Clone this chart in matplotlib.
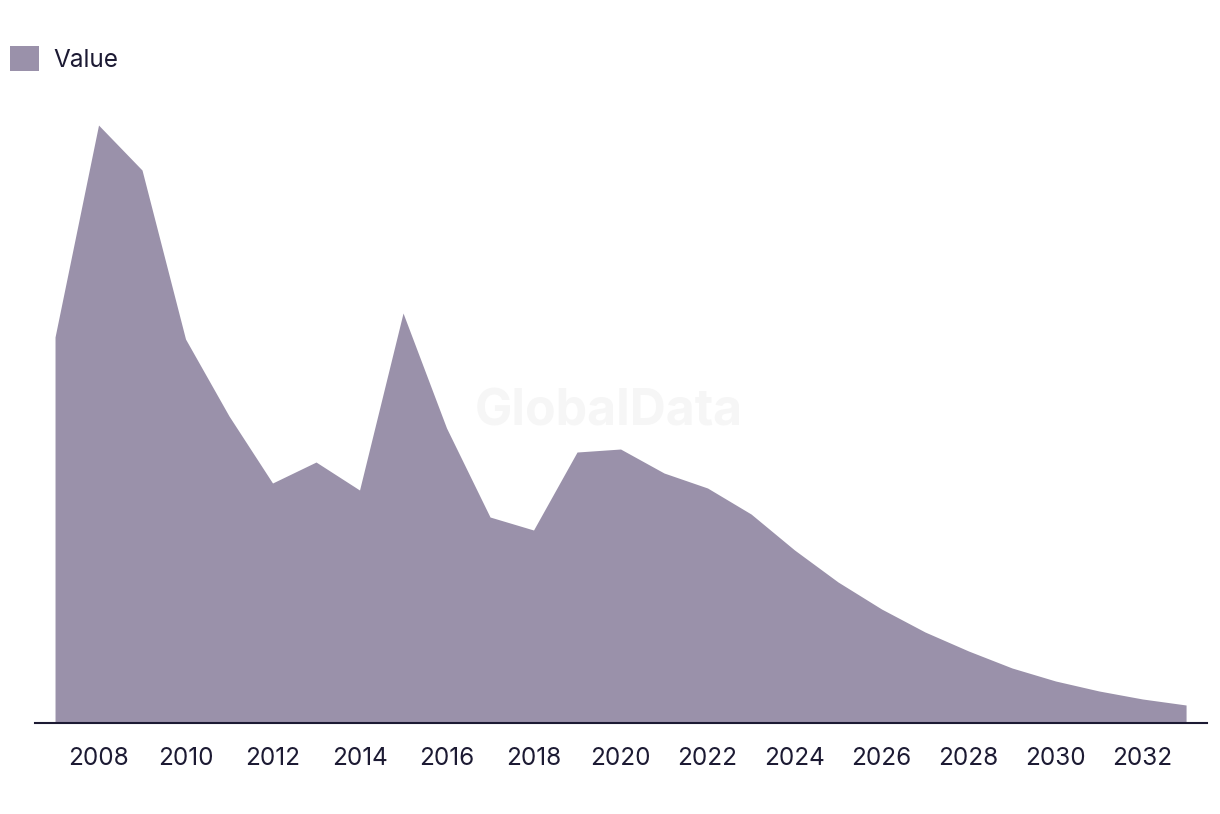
import matplotlib.pyplot as plt
from matplotlib.patches import Patch

# data
years = list(range(2007, 2034))
values = [386, 598, 553, 384, 307, 240, 261, 233, 410, 295, 206, 193, 271,
          274, 250, 235, 209, 173, 141, 114, 91, 72, 55, 42, 32, 24, 18]
tick_years = list(range(2008, 2034, 2))

fill_color = '#9a91aa'
text_color = '#1c1a33'

plt.rcParams['font.family'] = ['Inter', 'DejaVu Sans']

fig = plt.figure(figsize=(12.2, 8.14), dpi=100)
ax = fig.add_axes([0.0287, 0.1118, 0.9606, 0.7653])

ax.fill_between(years, values, 0, color=fill_color, linewidth=0, zorder=2)
ax.text(0.49, 0.50, 'GlobalData', transform=ax.transAxes, ha='center', va='center',
        fontsize=36, fontweight='bold', color='#f6f6f6', zorder=1)

ax.set_xlim(2006.54, 2033.48)
ax.set_ylim(0, 623)
ax.set_xticks(tick_years)
ax.set_xticklabels([str(y) for y in tick_years], fontsize=17.5, color=text_color)
ax.tick_params(axis='x', length=0, pad=17)
ax.set_yticks([])
for side in ['top', 'right', 'left']:
    ax.spines[side].set_visible(False)
ax.spines['bottom'].set_color(text_color)
ax.spines['bottom'].set_linewidth(1.5)
ax.spines['bottom'].set_zorder(3)

fig.legend(handles=[Patch(facecolor=fill_color, edgecolor='none', label='Value')],
           loc='upper left', bbox_to_anchor=(0.002, 0.952), frameon=False,
           fontsize=17.5, labelcolor=text_color, handlelength=1.2, handleheight=1.2,
           handletextpad=0.6, borderaxespad=0.0, borderpad=0.3)

fig.savefig('out.png', dpi=100)
